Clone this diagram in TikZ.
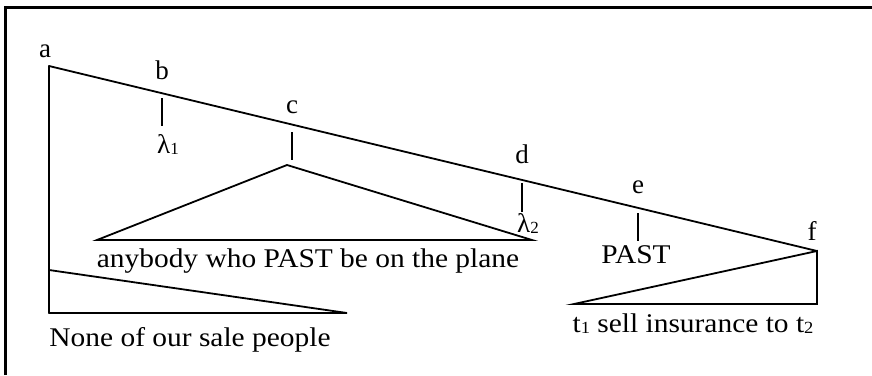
\documentclass[tikz,border=0pt]{standalone}
\usepackage{fontspec}
\usepackage{graphicx}
\setmainfont{Liberation Serif}
\tikzset{
  ln/.style={line width=1.8pt, line cap=round, line join=miter},
  tick/.style={line width=1.1pt},
  lbl/.style={anchor=base, inner sep=0pt, font=\fontsize{27}{30}\selectfont},
  lblw/.style={anchor=base west, inner sep=0pt, font=\fontsize{27}{30}\selectfont},
}
\newcommand{\sbs}[1]{\raisebox{-1.5pt}{\fontsize{17}{18}\selectfont #1}}
\newcommand{\hs}[1]{\scalebox{1.09}[1]{#1}}
\begin{document}
\begin{tikzpicture}[x=1pt,y=-1pt]
\useasboundingbox (0,0) rectangle (872,375);
% frame (top and left)
\draw[line width=3pt] (5,375) -- (5,7) -- (872,7);
% coordinates
\coordinate (a) at (49,66);
\coordinate (f) at (817,251);
\coordinate (bt) at (162,98);  \coordinate (bb) at (162,126);
\coordinate (ct) at (292,132); \coordinate (cb) at (292,160);
\coordinate (dt) at (522,183); \coordinate (db) at (522,212);
\coordinate (et) at (638,213); \coordinate (eb) at (638,241);
\coordinate (capex) at (287,165);
\coordinate (cl) at (97,240);  \coordinate (cr) at (532,240);
\coordinate (abot) at (49,313); \coordinate (atri) at (49,270); \coordinate (ar) at (347,313);
\coordinate (fl) at (574,304); \coordinate (fb) at (817,304);
% spine
\draw[ln] (a) -- (f);
\draw[ln] (abot) -- (a);
% ticks
\draw[tick] (bt) -- (bb);
\draw[tick] (ct) -- (cb);
\draw[tick] (dt) -- (db);
\draw[tick] (et) -- (eb);
% triangles
\draw[ln] (capex) -- (cl) -- (cr) -- cycle;
\draw[ln] (atri) -- (ar) -- (abot);
\draw[ln] (f) -- (fl) -- (fb) -- cycle;
% labels
\node[lbl] (la) at (45,57) {a};
\node[lbl] (lb) at (162,79) {b};
\node[lbl] (lc) at (292,113) {c};
\node[lbl] (ld) at (522,163) {d};
\node[lbl] (le) at (638,193) {e};
\node[lbl] (lf) at (812,240) {f};
\node[lblw] (l1) at (157,153) {λ\sbs{1}};
\node[lblw] (l2) at (517,232) {λ\sbs{2}};
\node[lbl] (past) at (636,263) {\hs{PAST}};
\node[lbl] (any) at (308,267) {\hs{anybody who PAST be on the plane}};
\node[lbl] (none) at (190,346) {\hs{None of our sale people}};
\node[lbl] (sell) at (693,332) {\hs{t\sbs{1} sell insurance to t\sbs{2}}};
\end{tikzpicture}
\end{document}
